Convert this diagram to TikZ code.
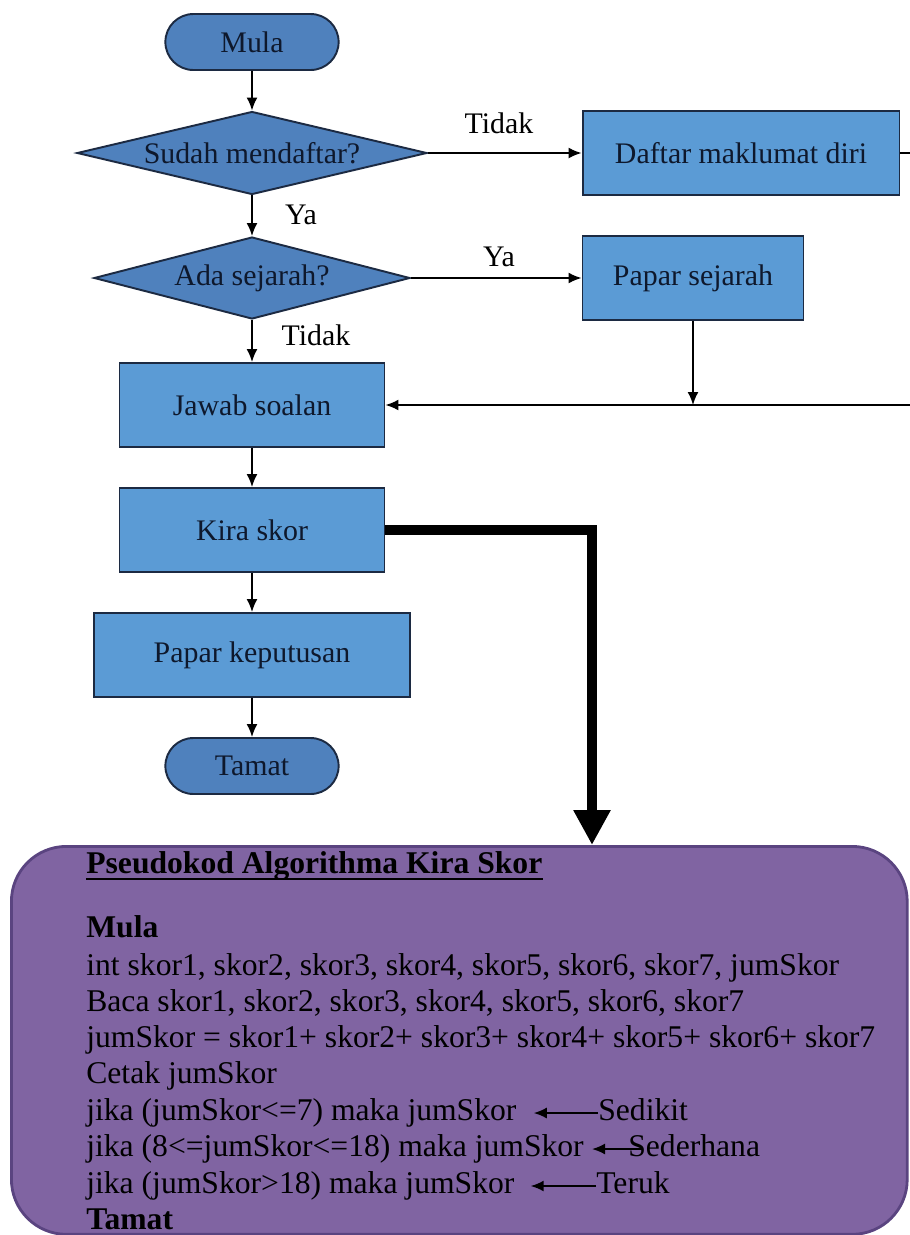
\documentclass[tikz,border=0pt]{standalone}
\usepackage{fontspec}
\setmainfont{Liberation Serif}
\usepackage{tikz}
\usetikzlibrary{arrows}
\usetikzlibrary{arrows.meta}
\usetikzlibrary{shapes.geometric}
\usetikzlibrary{shapes.misc}
\definecolor{boxblue}{RGB}{91,155,213}
\definecolor{darkblue}{RGB}{79,129,189}
\definecolor{edgeblue}{RGB}{28,42,66}
\definecolor{inkblue}{RGB}{14,24,44}
\definecolor{boxpurple}{RGB}{128,100,162}
\definecolor{edgepurple}{RGB}{90,68,128}

\begin{document}
\begin{tikzpicture}[x=0.02cm,y=-0.02cm,
    flowbox/.style={draw=edgeblue, fill=boxblue, line width=1.1pt, minimum height=1.68cm, text=inkblue, font=\fontsize{17}{20}\selectfont},
    decision/.style={diamond, aspect=4.2, inner sep=0pt, draw=edgeblue, fill=darkblue, line width=1.1pt, text=inkblue, font=\fontsize{17}{20}\selectfont},
    terminal/.style={rounded rectangle, draw=edgeblue, fill=darkblue, line width=1.1pt, minimum width=3.7cm, minimum height=1.12cm, text=inkblue, font=\fontsize{17}{20}\selectfont},
    tag/.style={font=\fontsize{17}{20}\selectfont},
    code/.style={anchor=base west, inner sep=0pt, font=\fontsize{18}{22}\selectfont},
    arr/.style={-{Latex[length=0.26cm,width=0.22cm]}, line width=1pt}]

\useasboundingbox (0,0) rectangle (910,1235);
\clip (0,0) rectangle (910,1235);

% flowchart
\node[terminal] (mula) at (252,42) {Mula};
\node[decision, minimum width=7cm, minimum height=1.66cm] (sudah) at (252,153) {Sudah mendaftar?};
\node[flowbox, minimum width=6.34cm] (daftar) at (741,153) {Daftar maklumat diri};
\node[decision, minimum width=6.32cm, minimum height=1.64cm] (sejarah) at (252,278) {Ada sejarah?};
\node[flowbox, minimum width=4.42cm] (papsej) at (693,278) {Papar sejarah};
\node[flowbox, minimum width=5.3cm] (jawab) at (252,405) {Jawab soalan};
\node[flowbox, minimum width=5.3cm] (kira) at (252,530) {Kira skor};
\node[flowbox, minimum width=6.32cm] (keputusan) at (252,655) {Papar keputusan};
\node[terminal] (tamat) at (252,766) {Tamat};

\node[tag] (tidak1) at (499,123) {Tidak};
\node[tag] (ya1) at (301,215) {Ya};
\node[tag] (ya2) at (499,257) {Ya};
\node[tag] (tidak2) at (316,335) {Tidak};

\draw[arr] (mula) -- (sudah);
\draw[arr] (sudah) -- (daftar);
\draw[arr] (sudah) -- (sejarah);
\draw[arr] (sejarah) -- (papsej);
\draw[arr] (sejarah) -- (jawab);
\draw[arr] (daftar.east) -- ++(40,0) |- (jawab.east);
\draw[arr] (papsej.south) -- (papsej.south |- jawab.east);
\draw[arr] (jawab) -- (kira);
\draw[arr] (kira) -- (keputusan);
\draw[arr] (keputusan) -- (tamat);

% pseudokod
\node[draw=edgepurple, fill=boxpurple, line width=1.6pt, rounded corners=1.1cm, inner sep=0pt,
      minimum width=17.92cm, minimum height=7.76cm, anchor=north west] (pseudo) at (10,845) {};
\coordinate (drop) at (592,845);
\draw[line width=5.5pt, -{Triangle[length=0.7cm,width=0.7cm]}] (kira.east) -| (drop);

\node[code] (title) at (86,873) {\textbf{Pseudokod Algorithma Kira Skor}};
\draw[line width=1.2pt] ([yshift=-0.12cm]title.base west) -- ([yshift=-0.12cm]title.base east);
\node[code] (cmula) at (86,937) {\textbf{Mula}};
\node[code] (cint) at (86,975) {int skor1, skor2, skor3, skor4, skor5, skor6, skor7, jumSkor};
\node[code] (cbaca) at (86,1011) {Baca skor1, skor2, skor3, skor4, skor5, skor6, skor7};
\node[code] (cjum) at (86,1047) {jumSkor = skor1+ skor2+ skor3+ skor4+ skor5+ skor6+ skor7};
\node[code] (ccetak) at (86,1083) {Cetak jumSkor};
\node[code] (cif1) at (86,1120) {jika (jumSkor<=7) maka jumSkor};
\node[code] (val1) at (598,1120) {Sedikit};
\node[code] (cif2) at (86,1156) {jika (8<=jumSkor<=18) maka jumSkor};
\node[code] (val2) at (628,1156) {Sederhana};
\node[code] (cif3) at (86,1193) {jika (jumSkor>18) maka jumSkor};
\node[code] (val3) at (596,1193) {Teruk};
\node[code] (ctamat) at (86,1229) {\textbf{Tamat}};

\draw[arr] ([yshift=0.14cm]val1.base west) -- ([xshift=0.34cm,yshift=0.14cm]cif1.base east);
\draw[arr] ([xshift=0.28cm,yshift=0.14cm]val2.base west) -- ([xshift=0.16cm,yshift=0.14cm]cif2.base east);
\draw[arr] ([yshift=0.14cm]val3.base west) -- ([xshift=0.32cm,yshift=0.14cm]cif3.base east);

\end{tikzpicture}
\end{document}
